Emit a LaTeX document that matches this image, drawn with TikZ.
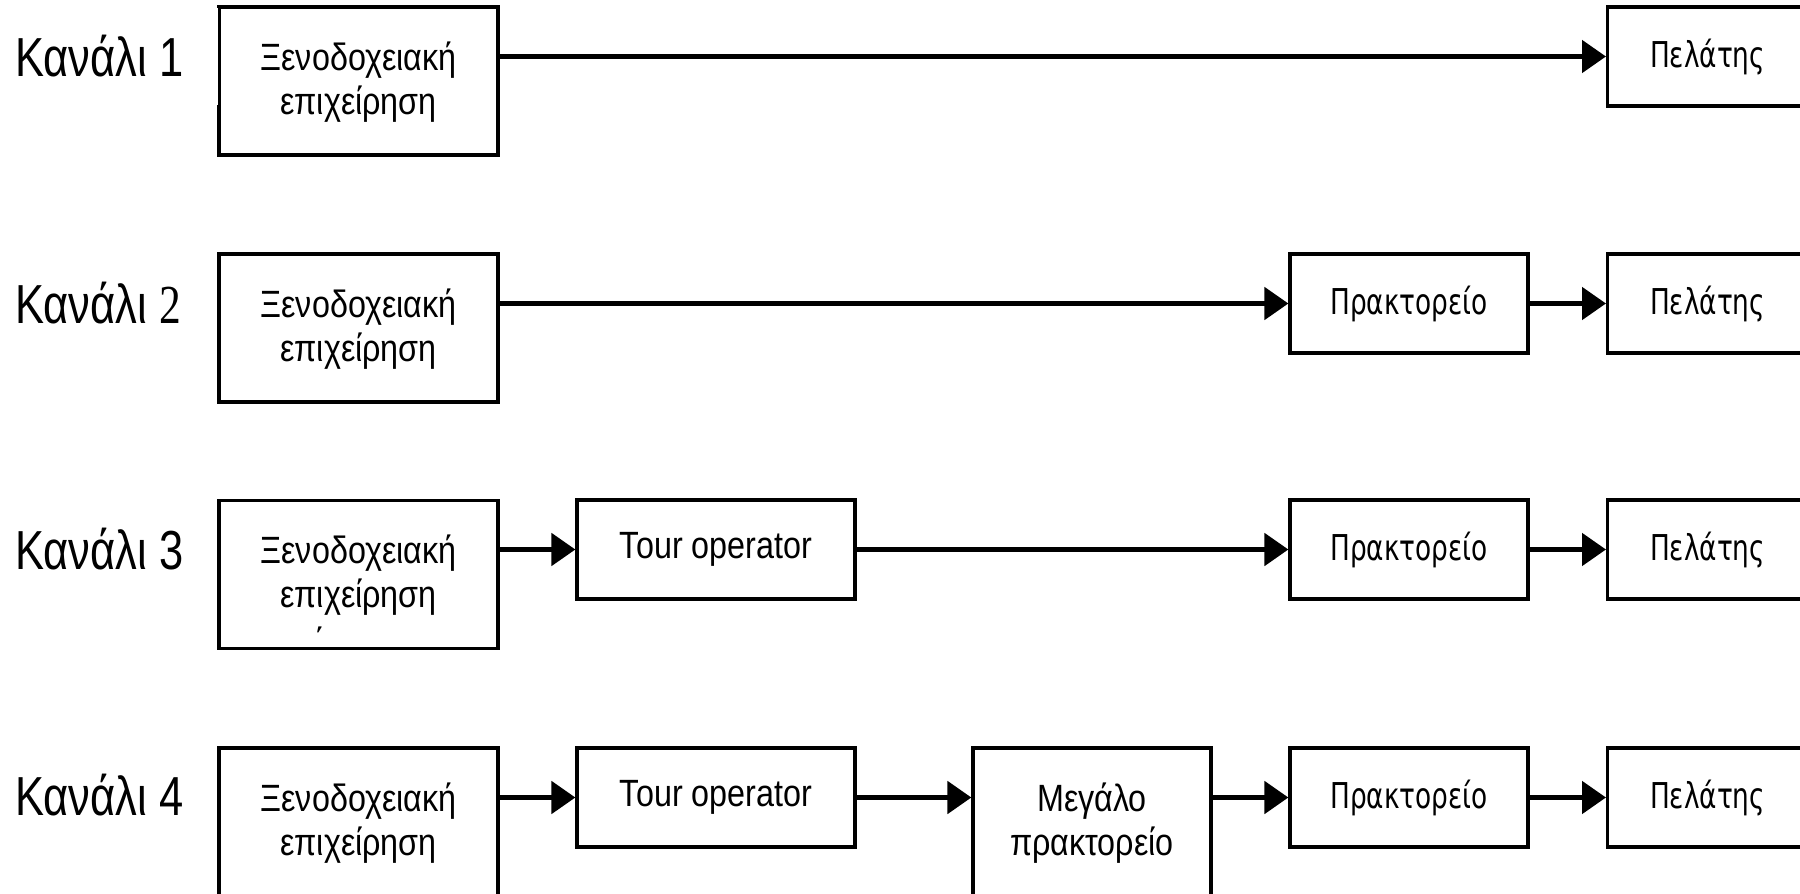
\documentclass[tikz,border=0pt]{standalone}
\usepackage{fontspec}
\setmainfont{Liberation Sans}
\newfontfamily\boxfont[FakeStretch=0.85]{Liberation Sans}
\newfontfamily\labfont[FakeStretch=0.79]{Liberation Sans}
\newfontfamily\labserif[FakeStretch=0.79]{Liberation Serif}
\newfontfamily\tahfont[FakeStretch=0.74]{DejaVu Sans}
\usetikzlibrary{arrows.meta}
\begin{document}
\begin{tikzpicture}[x=0.5pt,y=-0.5pt,
  box/.style={draw, line width=1.6pt, inner sep=0pt, align=center},
  afont/.style={font=\boxfont\fontsize{19}{22}\selectfont},
  tfont/.style={font=\tahfont\fontsize{17.8}{20}\selectfont},
  abox/.style={box, afont, minimum width=139.5pt, minimum height=74pt, text depth=3pt},
  tbox/.style={box, afont, minimum width=139pt, minimum height=49.5pt},
  mbox/.style={box, afont, minimum width=119pt, minimum height=74pt, text depth=3pt},
  rbox/.style={box, tfont, minimum width=119pt, minimum height=49.5pt},
  pbox/.style={box, tfont, minimum width=100pt, minimum height=49.5pt, anchor=west},
  lab/.style={anchor=west, inner sep=0pt, font=\labfont\fontsize{27.5}{30}\selectfont},
  arr/.style={line width=2.5pt, -{Triangle[length=12pt,width=16pt]}}
]
\useasboundingbox (0,0) rectangle (1800,894);
\clip (0,0) rectangle (1800,894);

% labels
\node[lab] (l1) at (15,56) {Κανάλι 1};
\node[lab] (l2) at (15,303) {Κανάλι {\labserif 2}};
\node[lab] (l3) at (15,549) {Κανάλι 3};
\node[lab] (l4) at (15,795) {Κανάλι 4};

% row 1
\node[abox] (a1) at (358.5,81) {Ξενοδοχειακή\\επιχείρηση};
\node[pbox] (p1) at (1606,56.5) {Πελάτης};
\draw[white, line width=1.8pt] ([shift={(0,3)}]a1.north west) -- ++(0,97);
\draw[line width=0.5pt] ([shift={(1.5,0)}]a1.north west) -- ++(0,100);
\draw[arr] (a1.east |- p1.west) -- (p1.west);

% row 2
\node[abox] (a2) at (358.5,328) {Ξενοδοχειακή\\επιχείρηση};
\node[rbox] (r2) at (1409,303.5) {Πρακτορείο};
\node[pbox] (p2) at (1606,303.5) {Πελάτης};
\draw[arr] (a2.east |- r2.west) -- (r2.west);
\draw[arr] (r2.east) -- (p2.west);

% row 3
\node[abox] (a3) at (358.5,574.5) {Ξενοδοχειακή\\επιχείρηση};
\node[afont, inner sep=0pt] (tonos) at (320,641) {΄};
\node[tbox] (t3) at (716,549.5) {Tour operator};
\node[rbox] (r3) at (1409,549.5) {Πρακτορείο};
\node[pbox] (p3) at (1606,549.5) {Πελάτης};
\draw[arr] (a3.east |- t3.west) -- (t3.west);
\draw[arr] (t3.east) -- (r3.west);
\draw[arr] (r3.east) -- (p3.west);

% row 4
\node[abox] (a4) at (358.5,822) {Ξενοδοχειακή\\επιχείρηση};
\node[tbox] (t4) at (716,797.5) {Tour operator};
\node[mbox] (m4) at (1092,822) {Μεγάλο\\πρακτορείο};
\node[rbox] (r4) at (1409,797.5) {Πρακτορείο};
\node[pbox] (p4) at (1606,797.5) {Πελάτης};
\draw[arr] (a4.east |- t4.west) -- (t4.west);
\draw[arr] (t4.east) -- (t4.east -| m4.west);
\draw[arr] (m4.east |- r4.west) -- (r4.west);
\draw[arr] (r4.east) -- (p4.west);
\end{tikzpicture}
\end{document}
